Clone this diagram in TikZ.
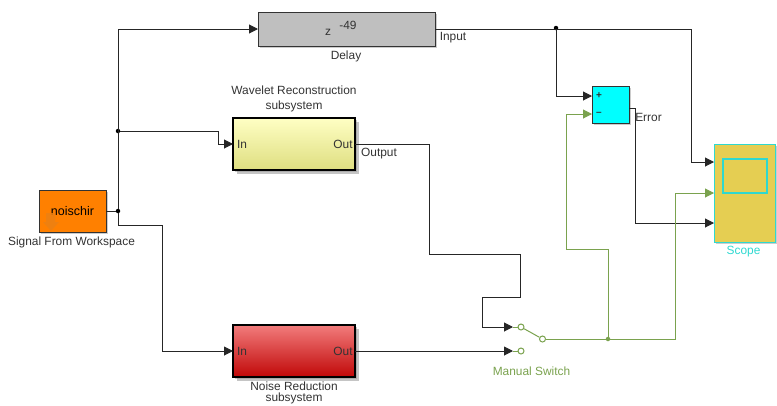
\documentclass[tikz,border=0pt]{standalone}
\usepackage{fontspec}
\setmainfont{Liberation Sans}
\usetikzlibrary{arrows.meta,shadows}
\definecolor{wiregreen}{HTML}{7AA24E}
\definecolor{scopefill}{HTML}{E5CE52}
\definecolor{scopeline}{HTML}{2FD8D0}
\definecolor{sumfill}{HTML}{00FFFF}
\definecolor{srcfill}{HTML}{FF8000}
\definecolor{waveTop}{HTML}{FFFFC4}
\definecolor{waveBot}{HTML}{DEDE80}
\definecolor{noiseTop}{HTML}{F27C7C}
\definecolor{noiseBot}{HTML}{C00808}
\tikzset{
  wire/.style={draw=black!85,line width=1pt},
  signal/.style={wire,-{Triangle[length=9pt,width=9pt]}},
  greenwire/.style={draw=wiregreen,line width=1pt},
  greensignal/.style={greenwire,-{Triangle[length=9pt,width=9pt]}},
  junction/.style={circle,fill=black,inner sep=0pt,minimum size=4.5pt},
  greenjunction/.style={circle,fill=wiregreen,inner sep=0pt,minimum size=4.5pt},
  swport/.style={circle,draw=wiregreen,fill=white,line width=1pt,inner sep=0pt,minimum size=6pt},
  block/.style={rectangle,draw=black!80,line width=1pt,inner sep=0pt,outer sep=0pt,
    drop shadow={shadow xshift=1.5pt,shadow yshift=-1.5pt,fill=black!40}},
  subsys/.style={block,draw=black,line width=2pt,minimum width=122pt,minimum height=52pt,
    drop shadow={shadow xshift=4pt,shadow yshift=-4pt,fill=black!45}},
  lbl/.style={font=\fontsize{11.9}{13}\selectfont,text=black!80,inner sep=0pt}
}
\begin{document}
\begin{tikzpicture}[x=1pt,y=-1pt]
  \useasboundingbox (0,0) rectangle (777,405);

  % Blocks
  \node[block,fill=srcfill,minimum width=67pt,minimum height=42pt,font=\fontsize{12.5}{14}\selectfont] (source) at (72.5,211) {noischir};
  \node[block,fill=black!25,minimum width=177pt,minimum height=34pt] (delay) at (346.5,29) {};
  \node[subsys,top color=waveTop,bottom color=waveBot] (wavelet) at (294,144) {};
  \node[subsys,top color=noiseTop,middle color=noiseTop,bottom color=noiseBot] (noise) at (294,351) {};
  \node[block,fill=sumfill,minimum width=37pt,minimum height=37pt] (sum) at (610.5,104.5) {};
  \node[block,draw=scopeline,fill=scopefill,minimum width=61pt,minimum height=98pt] (scope) at (744.5,193) {};
  \node[rectangle,draw=scopeline,line width=1.2pt,minimum width=44pt,minimum height=34pt,inner sep=0pt] (screen) at (745,176) {};

  % Workspace arrow
  \fill[orange!70!brown,opacity=0.85] (46,213) -- (55,213) -- (55,222) -- (59,222) -- (51,231) -- (43,222) -- (46,222) -- cycle;

  % Block text
  \node[lbl] (sigtext) at (71.5,242) {Signal From Workspace};
  \node[lbl] (delaytext) at (346,56) {Delay};
  \node[lbl] (ztext) at (328,32) {z};
  \node[lbl] (exptext) at (348,25) {-49};
  \node[lbl] (wavetext) at (294,90) {Wavelet Reconstruction};
  \node[lbl] (wavesub) at (294,106) {subsystem};
  \node[lbl] (noisetext) at (294,386.5) {Noise Reduction};
  \node[lbl] (noisesub) at (294,398.5) {subsystem};
  \node[lbl] (waveIn) at (242,144) {In};
  \node[lbl] (waveOut) at (343,144) {Out};
  \node[lbl] (noiseIn) at (242,351) {In};
  \node[lbl] (noiseOut) at (343,351) {Out};
  \node[lbl,font=\bfseries\fontsize{10}{12}\selectfont] (plus) at (599,95.5) {+};
  \node[lbl,font=\bfseries\fontsize{10}{12}\selectfont] (minus) at (599,114) {--};
  \node[lbl,text=scopeline] (scopetext) at (743.5,252) {Scope};
  \node[lbl,text=wiregreen] (switchtext) at (531.5,371) {Manual Switch};

  % Signal labels
  \node[lbl] (inputtext) at (453,38) {Input};
  \node[lbl] (outputtext) at (379,154) {Output};
  \node[lbl] (errortext) at (648.5,117) {Error};

  % Manual switch
  \node[swport] (swA) at (521,327) {};
  \node[swport] (swB) at (521,351) {};
  \node[swport] (swC) at (542.5,339) {};
  \coordinate (tipA) at (513,327);
  \coordinate (tipB) at (513,351);
  \draw[greenwire] (tipA) -- (swA);
  \draw[greenwire] (tipB) -- (swB);
  \draw[greenwire] (swA) -- (swC);

  % Junctions
  \node[junction] (splitsrc) at (118,211) {};
  \node[junction] (splitup) at (118,131) {};
  \node[junction] (splitin) at (556,28) {};
  \node[greenjunction] (splitsw) at (608,339) {};

  % Black wires
  \draw[wire] (source.east) -- (splitsrc);
  \draw[signal] (splitsrc) |- (delay.west);
  \coordinate (waveBend) at (218,131);
  \draw[signal] (splitup) -- (waveBend) |- (wavelet.west);
  \coordinate (noiseBend) at (162,225);
  \draw[signal] (splitsrc) |- (noiseBend) |- (noise.west);
  \coordinate (scopeTop) at (691,29);
  \draw[signal] (delay.east) -- (scopeTop) |- ([yshift=31pt]scope.west);
  \draw[signal] (splitin) |- ([yshift=8.5pt]sum.west);
  \coordinate (errBend) at (635,108);
  \draw[wire] (sum.east |- errBend) -- (errBend);
  \draw[signal] (errBend) |- ([yshift=-30pt]scope.west);
  \coordinate (outA) at (429,144);
  \coordinate (outB) at (520,254);
  \coordinate (outC) at (482,297);
  \draw[signal] (wavelet.east) -- (outA) |- (outB) |- (outC) |- (tipA);
  \draw[signal] (noise.east) -- (tipB);

  % Green wires
  \coordinate (fbBend) at (566,249);
  \draw[greenwire] (swC) -- (splitsw);
  \draw[greensignal] (splitsw) |- (fbBend) |- ([yshift=-9.5pt]sum.west);
  \coordinate (scopeBend) at (675,339);
  \draw[greensignal] (splitsw) -- (scopeBend) |- (scope.west);
\end{tikzpicture}
\end{document}
